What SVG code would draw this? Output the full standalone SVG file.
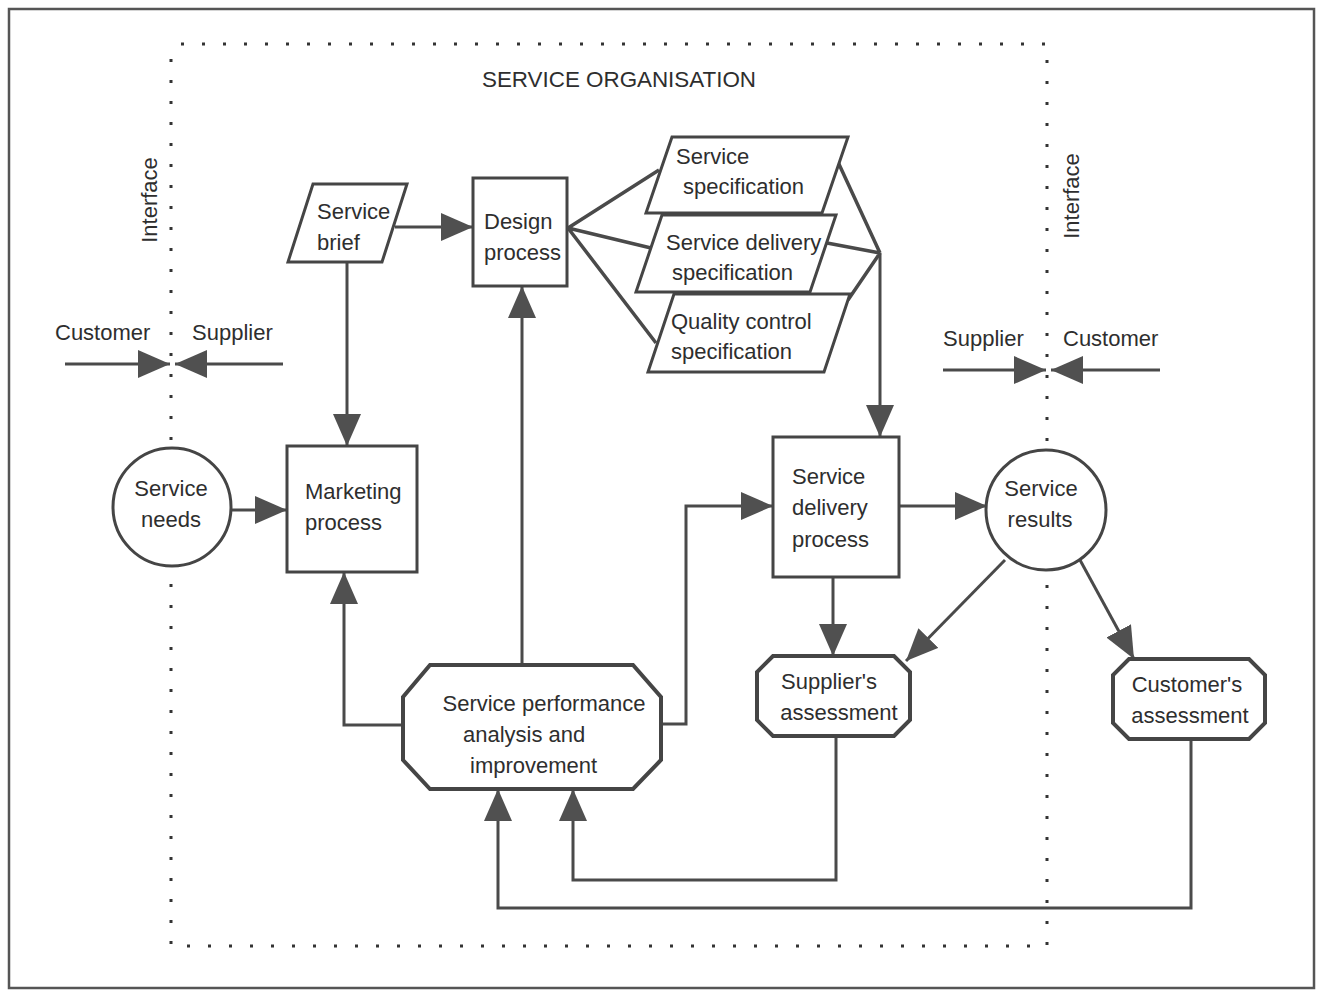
<svg xmlns="http://www.w3.org/2000/svg" width="1319" height="993" viewBox="0 0 1319 993">
<defs>
<marker id="ah" markerUnits="userSpaceOnUse" markerWidth="34" markerHeight="30" refX="32" refY="14" orient="auto">
<path d="M0,0 L32,14 L0,28 z" fill="#505050"/>
</marker>
<style>
text{font-family:"Liberation Sans",Arial,sans-serif;font-size:22px;fill:#2e2e2e}
.shape{fill:#fff;stroke:#454545;stroke-width:3}
.oct{fill:#fff;stroke:#454545;stroke-width:4}
.line{fill:none;stroke:#4a4a4a;stroke-width:3.5}
.arr{fill:none;stroke:#4a4a4a;stroke-width:3}
.arr{marker-end:url(#ah)}
.dot{fill:none;stroke:#333;stroke-width:3;stroke-dasharray:3 18}
.mid{text-anchor:middle}
</style>
</defs>
<rect x="0" y="0" width="1319" height="993" fill="#fff"/>
<rect x="9" y="9" width="1305" height="979" fill="none" stroke="#555" stroke-width="2.5"/>
<g id="boundary">
<path class="dot" d="M181,44 H1047 V946 H171 V44"/>
<text x="619" y="87" class="mid" font-size="24" textLength="274" lengthAdjust="spacingAndGlyphs">SERVICE ORGANISATION</text>
<text x="157" y="200" class="mid" transform="rotate(-90 157 200)">Interface</text>
<text x="1079" y="196" class="mid" transform="rotate(-90 1079 196)">Interface</text>
<text x="55" y="340">Customer</text>
<text x="192" y="340">Supplier</text>
<text x="943" y="346">Supplier</text>
<text x="1063" y="346">Customer</text>
</g>
<g id="connectors">
<path class="arr" d="M65,364 H170"/>
<path class="arr" d="M283,364 H175"/>
<path class="arr" d="M943,370 H1046"/>
<path class="arr" d="M1160,370 H1051"/>
<path class="arr" d="M347,262 V446"/>
<path class="arr" d="M395,227 H473"/>
<path class="line" d="M568,228 L659,170 M568,228 L651,248 M568,228 L656,343"/>
<path class="line" d="M838,162 L880,253 M827,243 L880,253 M848,300 L880,253"/>
<path class="arr" d="M880,253 V437"/>
<path class="arr" d="M232,510 H287"/>
<path class="arr" d="M403,725 H344 V572"/>
<path class="arr" d="M522,664 V286"/>
<path class="arr" d="M661,724 H686 V506 H773"/>
<path class="arr" d="M899,506 H987"/>
<path class="arr" d="M833,577 V656"/>
<path class="arr" d="M1005,560 L906,661"/>
<path class="arr" d="M1080,560 L1134,659"/>
<path class="arr" d="M836,736 V880 H573 V789"/>
<path class="arr" d="M1191,739 V908 H498 V789"/>
</g>
<g id="service-brief">
<path class="shape" d="M313,184 H407 L382,262 H288 Z"/>
<text x="317" y="219">Service</text>
<text x="317" y="250">brief</text>
</g>
<g id="design-process">
<rect class="shape" x="473" y="178" width="94" height="108"/>
<text x="484" y="229">Design</text>
<text x="484" y="260">process</text>
</g>
<g id="service-specification">
<path class="shape" d="M672,137 H848 L822,213 H646 Z"/>
<text x="676" y="164">Service</text>
<text x="683" y="194">specification</text>
</g>
<g id="service-delivery-specification">
<path class="shape" d="M662,215 H836 L810,292 H636 Z"/>
<text x="666" y="250">Service delivery</text>
<text x="672" y="280">specification</text>
</g>
<g id="quality-control-specification">
<path class="shape" d="M674,294 H850 L824,372 H648 Z"/>
<text x="671" y="329">Quality control</text>
<text x="671" y="359">specification</text>
</g>
<g id="service-needs">
<circle class="shape" cx="172" cy="507" r="59"/>
<text x="171" y="496" class="mid">Service</text>
<text x="171" y="527" class="mid">needs</text>
</g>
<g id="marketing-process">
<rect class="shape" x="287" y="446" width="130" height="126"/>
<text x="305" y="499">Marketing</text>
<text x="305" y="530">process</text>
</g>
<g id="service-performance">
<path class="oct" d="M430,665 H633 L661,697 V760 L633,789 H430 L403,760 V697 Z"/>
<text x="544" y="711" class="mid">Service performance</text>
<text x="463" y="742">analysis and</text>
<text x="470" y="773">improvement</text>
</g>
<g id="service-delivery-process">
<rect class="shape" x="773" y="437" width="126" height="140"/>
<text x="792" y="484">Service</text>
<text x="792" y="515">delivery</text>
<text x="792" y="547">process</text>
</g>
<g id="service-results">
<circle class="shape" cx="1046" cy="510" r="60"/>
<text x="1041" y="496" class="mid">Service</text>
<text x="1040" y="527" class="mid">results</text>
</g>
<g id="suppliers-assessment">
<path class="oct" d="M773,656 H894 L910,672 V720 L894,736 H773 L757,720 V672 Z"/>
<text x="829" y="689" class="mid">Supplier's</text>
<text x="839" y="720" class="mid">assessment</text>
</g>
<g id="customers-assessment">
<path class="oct" d="M1129,659 H1249 L1265,675 V723 L1249,739 H1129 L1113,723 V675 Z"/>
<text x="1187" y="692" class="mid">Customer's</text>
<text x="1190" y="723" class="mid">assessment</text>
</g>
</svg>
